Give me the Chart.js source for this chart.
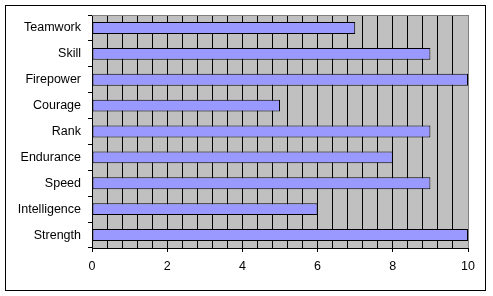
<!DOCTYPE html>
<html>
<head>
<meta charset="utf-8">
<script src="https://cdn.jsdelivr.net/npm/chart.js@4/dist/chart.umd.min.js"></script>
<style>
  html,body{margin:0;padding:0;background:#fff;}
  #wrap{width:493px;height:296px;position:relative;}
</style>
</head>
<body>
<div id="wrap"><canvas id="c" width="493" height="296"></canvas></div>
<script>
const categories = ['Teamwork','Skill','Firepower','Courage','Rank','Endurance','Speed','Intelligence','Strength'];
const scores = [7, 9, 10, 5, 9, 8, 9, 6, 10];
const xMin = 0, xMax = 10, gridStep = 0.4, labelStep = 2;

const isLabel = v => Math.abs(v/labelStep - Math.round(v/labelStep)) < 1e-6;

// gray plot area + outer frame
const frame = {
  id:'frame',
  beforeDraw(chart){
    const {ctx, chartArea:a} = chart;
    ctx.save();
    ctx.fillStyle = '#fff';
    ctx.fillRect(0,0,chart.width,chart.height);
    ctx.strokeStyle = '#000'; ctx.lineWidth = 1;
    ctx.strokeRect(5.5,5.5,480,285);
    ctx.fillStyle = '#C0C0C0';
    ctx.fillRect(a.left,a.top,a.right-a.left,a.bottom-a.top);
    ctx.restore();
  },
  beforeDatasetsDraw(chart){
    const {ctx, chartArea:a} = chart;
    ctx.save();
    ctx.strokeStyle = '#808080'; ctx.lineWidth = 1;
    ctx.beginPath();
    ctx.moveTo(a.left, a.top+0.5); ctx.lineTo(a.right+0.5, a.top+0.5);
    ctx.lineTo(a.right+0.5, a.bottom);
    ctx.stroke();
    ctx.restore();
  }
};

new Chart(document.getElementById('c'), {
  type:'bar',
  data:{
    labels:categories,
    datasets:[{
      data:scores,
      backgroundColor:'#9999FF',
      borderColor:'#000',
      borderWidth:1,
      borderSkipped:false,
      barPercentage:0.46,
      categoryPercentage:1
    }]
  },
  options:{
    indexAxis:'y',
    responsive:false,
    animation:false,
    layout:{padding:{left:0, top:15, right:25, bottom:0}},
    plugins:{legend:{display:false}, tooltip:{enabled:false}},
    scales:{
      x:{
        min:xMin, max:xMax,
        afterFit(s){ s.height = 48; },
        afterBuildTicks(s){
          const t = [];
          for (let i = 0; i <= Math.round((xMax-xMin)/gridStep); i++) t.push({value: +(xMin + i*gridStep).toFixed(4)});
          s.ticks = t;
        },
        ticks:{
          autoSkip:false, maxRotation:0, color:'#000', padding:7,
          font:{family:'Liberation Sans, Arial', size:12.5},
          callback:(v)=> isLabel(v) ? String(Math.round(v)) : ''
        },
        grid:{
          color:c=> (c.tick && Math.abs(c.tick.value - xMax) < 1e-6) ? '#808080' : '#000',
          tickColor:c=> (c.tick && isLabel(c.tick.value)) ? '#000' : 'rgba(0,0,0,0)',
          tickLength:4, lineWidth:1
        },
        border:{color:'#000', width:1}
      },
      y:{
        afterFit(s){ s.width = 92; },
        ticks:{color:'#000', padding:7, font:{family:'Liberation Sans, Arial', size:12.5}},
        grid:{drawOnChartArea:false, tickColor:'#000', tickLength:4, offset:true},
        border:{color:'#000', width:1}
      }
    }
  },
  plugins:[frame]
});
</script>
</body>
</html>
